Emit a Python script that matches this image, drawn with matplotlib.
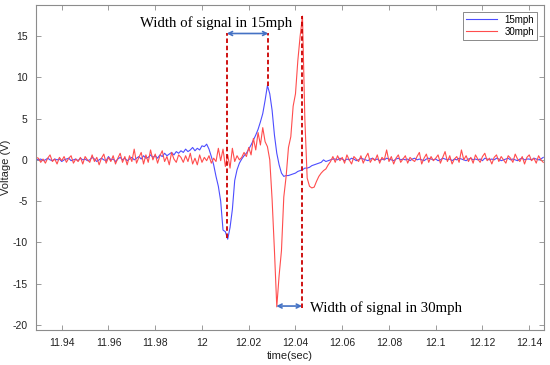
import numpy as np
import matplotlib
matplotlib.use("Agg")
import matplotlib.pyplot as plt

# sampling
t_start = 11.929
t_step = 0.001

v15 = [
    0.1, 0.0, 0.1, -0.1, 0.0, 0.2, 0.0, -0.1, 0.1, 0.0,
    0.1, -0.2, 0.0, 0.1, 0.2, -0.1, 0.0, 0.1, -0.1, 0.2,
    0.0, 0.1, -0.1, 0.0, 0.3, 0.1, -0.2, 0.0, 0.2, 0.0,
    -0.1, 0.4, 0.0, 0.1, -0.2, 0.1, 0.3, 0.0, 0.2, -0.1,
    0.1, 0.3, 0.0, 0.2, 0.4, 0.1, 0.5, 0.2, 0.3, 0.6,
    0.3, 0.5, 0.2, 0.6, 0.4, 0.8, 0.5, 0.7, 0.9, 0.6,
    1.0, 0.8, 1.1, 0.9, 1.3, 1.0, 1.2, 1.5, 1.1, 1.4,
    1.2, 1.7, 1.6, 1.9, 1.3, 0.4, -0.6, -2.0, -3.2, -5.0,
    -8.5, -8.7, -9.6, -8.2, -6.0, -2.5, -1.2, -0.4, 0.1, 0.5,
    0.8, 1.3, 1.8, 2.4, 3.0, 3.7, 4.6, 5.6, 7.2, 9.0,
    8.0, 6.0, 3.0, 0.8, -0.6, -1.6, -2.0, -1.9, -1.9, -1.8,
    -1.7, -1.6, -1.4, -1.3, -1.2, -1.0, -1.0, -0.9, -0.7, -0.6,
    -0.5, -0.4, -0.3, 0.0, -0.2, -0.1, 0.0, 0.1,
    0.1, 0.0, 0.2, 0.1, -0.1, 0.1, 0.0, 0.2, 0.1, -0.1,
    0.0, 0.2, 0.1, 0.0, -0.1, 0.1, 0.2, 0.0, 0.1, -0.1,
    0.1, 0.0, 0.2, 0.1, 0.0, -0.1, 0.1, 0.2, 0.0, 0.1,
    0.0, 0.1, -0.1, 0.1, 0.2, 0.0, 0.1, 0.0, -0.1, 0.1,
    0.2, 0.1, 0.0, 0.1, -0.1, 0.0, 0.2, 0.1, 0.0, 0.1,
    -0.1, 0.1, 0.0, 0.2, 0.1, 0.0, -0.1, 0.1, 0.2, 0.0,
    0.1, 0.0, 0.1, -0.1, 0.2, 0.1, 0.0, 0.1, 0.0, 0.2,
    0.1, -0.1, 0.0, 0.1, 0.2, 0.0, 0.1, 0.0, -0.1, 0.1,
    0.2, 0.0, 0.1, 0.1, 0.0, 0.2, 0.1, 0.0, 0.1, 0.3,
]

v30 = [
    0.3, 0.2, -0.3, 0.1, -0.4, 0.2, 0.6, -0.2, 0.1, -0.5,
    0.3, -0.1, 0.4, -0.3, 0.2, 0.5, -0.4, 0.1, -0.2, 0.3,
    -0.5, 0.4, 0.0, -0.3, 0.6, -0.2, 0.3, -0.6, 0.2, 0.7,
    -0.4, 0.3, -0.2, 0.5, -0.5, 0.2, 0.8, -0.3, 0.4, -0.6,
    0.5, -0.2, 1.3, -0.4, 0.3, 0.9, -0.5, 0.6, -0.3, 1.2,
    0.0, 0.7, -0.4, 0.5, 1.1, -0.2, 0.4, -0.6, 0.9, 0.1,
    -0.3, 0.6, 0.3, -0.3, 0.5, -0.2, 0.8, -0.5, 0.2, -0.6,
    0.6, -0.3, 0.3, -0.1, 0.5, -0.4, 0.2, -0.2, 1.4, -0.1,
    1.3, -0.8, 0.6, -1.0, 1.4, -0.2, 0.5, 0.0, 0.3, 0.9,
    0.4, 1.5, 0.6, 2.6, 1.2, 3.3, 1.8, 3.9, 2.2, 1.6,
    0.0, -4.8, -11.0, -17.8, -14.0, -11.0, -4.5, -2.0, 1.5, 2.8,
    6.5, 8.0, 12.0, 15.0, 17.4, 5.0, -2.2, -3.2, -3.4, -3.3,
    -2.6, -2.0, -1.6, -1.3, -1.1, -0.6, -0.2, 0.4,
    -0.3, 0.5, -0.1, 0.3, -0.4, 0.6, 0.0, -0.5, 0.4, 0.1,
    -0.2, 0.5, -0.4, 0.3, 0.8, -0.3, 0.2, -0.1, 0.6, -0.4,
    0.3, 0.0, 1.2, -0.2, 0.4, -0.5, 0.2, 0.6, -0.3, 0.1,
    0.5, -0.4, 0.3, 0.0, -0.2, 0.4, 0.9, -0.5, 0.2, 0.7,
    -0.3, 0.4, -0.1, 0.2, 0.6, -0.4, 0.3, 1.0, -0.2, 0.5,
    -0.5, 0.1, 0.4, -0.3, 1.2, 0.0, 0.5, -0.2, 0.3, -0.4,
    0.6, 0.1, -0.3, 0.4, 0.8, -0.1, 0.2, -0.5, 0.3, 0.6,
    -0.2, 0.4, 0.0, -0.4, 0.5, 0.2, -0.3, 0.7, 0.1, -0.2,
    0.4, -0.5, 0.3, 0.6, -0.1, 0.2, -0.4, 0.5, 0.0, -0.3,
]

series_labels = ["15mph", "30mph"]
xticks = [11.94, 11.96, 11.98, 12.00, 12.02, 12.04, 12.06, 12.08, 12.10, 12.12, 12.14]
yticks = [-20, -15, -10, -5, 0, 5, 10, 15]

# annotation markers: (x, y_top, y_bottom)
mark_15_left = (12.0106, 15.3, -9.5)
mark_15_right = (12.0284, 15.3, 9.0)
mark_30_right = (12.0428, 17.4, -17.9)
arrow_15 = (12.0106, 12.0284, 15.3)
arrow_30 = (12.0318, 12.0428, -17.7)

t = t_start + t_step * np.arange(len(v15))

fig = plt.figure(figsize=(5.5, 3.65), dpi=100)
ax = fig.add_axes([0.0655, 0.0959, 0.9235, 0.8904])

ax.plot(t, v15, color="#4d4dff", lw=0.8, label=series_labels[0])
ax.plot(t, v30, color="#ff4d4d", lw=0.8, label=series_labels[1])

for (x, y0, y1) in [mark_15_left, mark_15_right, mark_30_right]:
    ax.plot([x, x], [y1, y0], color="#cc0000", lw=1.3, linestyle=(0, (2.5, 1.5)))

for (xa, xb, y) in [arrow_15, arrow_30]:
    ax.annotate("", xy=(xa, y), xytext=(xb, y),
                arrowprops=dict(arrowstyle="<->", color="#4472c4", lw=1.2,
                                shrinkA=0, shrinkB=0, mutation_scale=7))

ax.text(12.0062, 16.1, "Width of signal in 15mph", family="Liberation Serif",
        fontsize=10.7, ha="center", va="baseline", color="black")
ax.text(12.0463, -18.4, "Width of signal in 30mph", family="Liberation Serif",
        fontsize=10.7, ha="left", va="baseline", color="black")

ax.set_xlim(11.929, 12.1463)
ax.set_ylim(-20.6, 18.75)
ax.set_xticks(xticks)
ax.set_xticklabels([f"{v:g}" for v in xticks])
ax.set_yticks(yticks)
ax.set_yticklabels([f"{v:g}" for v in yticks])

for s in ax.spines.values():
    s.set_color("#8c8c8c")
    s.set_linewidth(0.8)
ax.tick_params(direction="in", top=True, right=True, length=3.5, width=0.6,
               color="#8c8c8c", labelsize=7.5, labelcolor="#222222", pad=6)
for lab in ax.get_xticklabels() + ax.get_yticklabels():
    lab.set_family("Liberation Sans")

ax.set_xlabel("time(sec)", family="Liberation Sans", fontsize=8, color="#222222", labelpad=2)
ax.set_ylabel("Voltage (V)", family="Liberation Sans", fontsize=8, color="#222222", labelpad=1)

leg = ax.legend(loc="upper right", fontsize=7, frameon=True, fancybox=False,
                edgecolor="#555555", handlelength=3.2, borderaxespad=0.7,
                handletextpad=0.8, labelspacing=0.2, borderpad=0.3,
                prop={"family": "Liberation Sans", "size": 7})
leg.get_frame().set_linewidth(0.6)

fig.savefig("out.png", dpi=100)
